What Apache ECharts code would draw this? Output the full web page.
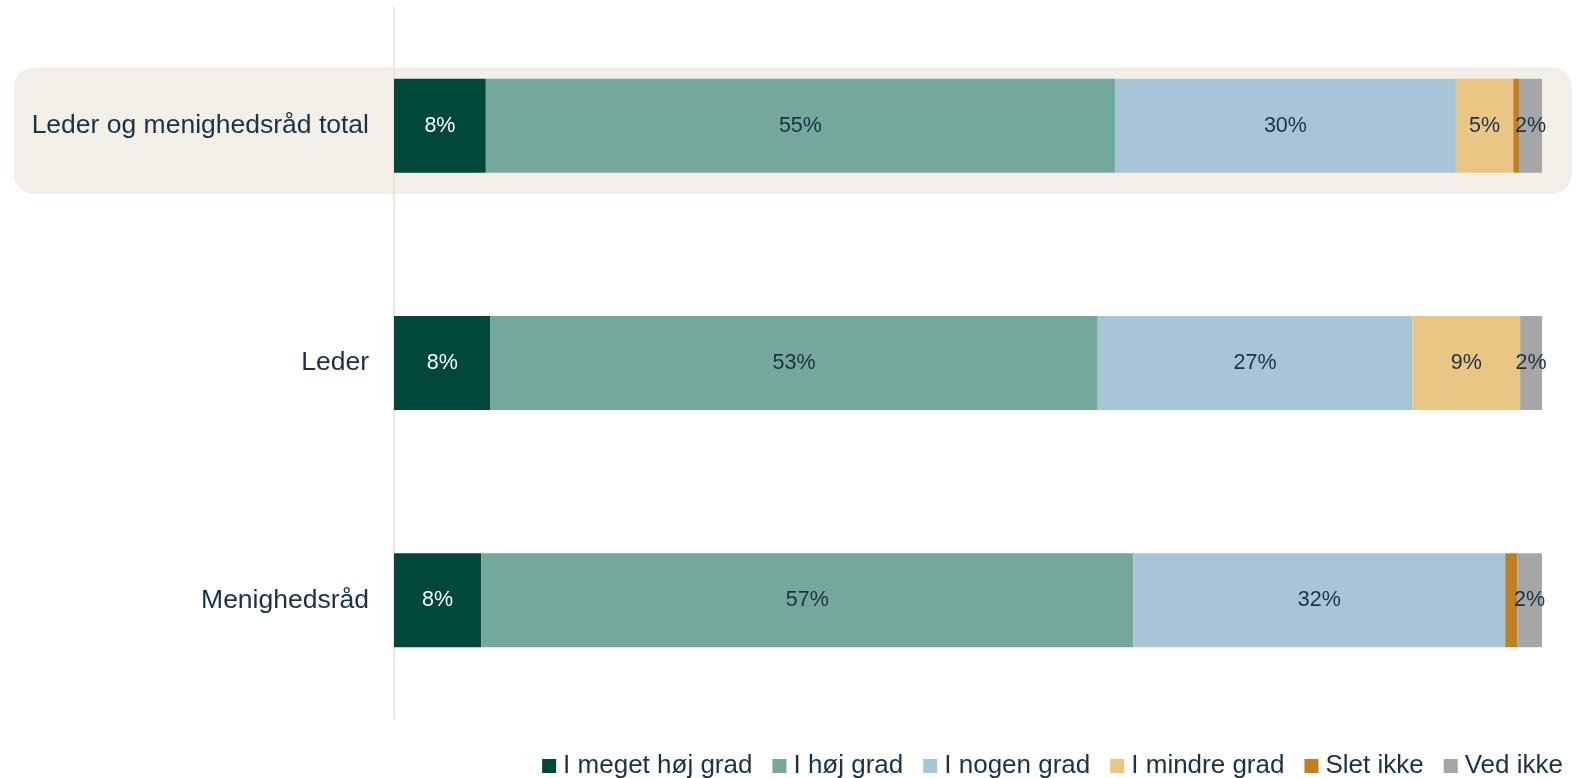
<!DOCTYPE html>
<html>
<head>
<meta charset="utf-8">
<script src="https://cdn.jsdelivr.net/npm/echarts@6/dist/echarts.min.js"></script>
<style>
  html, body { margin: 0; padding: 0; background: #ffffff; }
  #chart { width: 1580px; height: 778px; }
</style>
</head>
<body>
<div id="chart"></div>
<script>
// Kategorier og andele (%)
const categories = ["Leder og menighedsråd total", "Leder", "Menighedsråd"];
const seriesNames = ["I meget høj grad", "I høj grad", "I nogen grad", "I mindre grad", "Slet ikke", "Ved ikke"];
const meget_hoj = [8.0, 8.4, 7.6];
const hoj = [54.8, 52.9, 56.8];
const nogen = [29.7, 27.4, 32.4];
const mindre = [5.0, 9.4, 0];
const slet_ikke = [0.5, 0, 1.05];
const ved_ikke = [2.0, 1.9, 2.15];

const values = [meget_hoj, hoj, nogen, mindre, slet_ikke, ved_ikke];
const colors = ["#01473a", "#74a89b", "#a8c5d6", "#e9c683", "#c17f22", "#a6a6a6"];
const labelColors = ["#ffffff", "#1b3147", "#1b3147", "#1b3147", "#1b3147", "#1b3147"];

const chart = echarts.init(document.getElementById("chart"));

const series = seriesNames.map((name, i) => ({
  name: name,
  type: "bar",
  stack: "total",
  barWidth: 94,
  data: values[i],
  itemStyle: { color: colors[i] },
  label: {
    show: true,
    position: "inside",
    fontFamily: "Liberation Sans, Arial, sans-serif",
    fontSize: 21.5,
    color: labelColors[i],
    formatter: (p) => (p.value >= 1.5 ? Math.round(p.value) + "%" : ""),
  },
  emphasis: { disabled: true },
}));

chart.setOption({
  backgroundColor: "#ffffff",
  animation: false,
  textStyle: { fontFamily: "Liberation Sans, Arial, sans-serif" },
  graphic: [
    {
      type: "rect",
      z: -10,
      shape: { x: 14, y: 67.5, width: 1558, height: 126.5, r: 20 },
      style: { fill: "#f2efe8" },
      silent: true,
    },
  ],
  legend: {
    data: seriesNames,
    right: 12,
    top: 748,
    icon: "rect",
    itemWidth: 14,
    itemHeight: 14,
    itemGap: 20,
    selectedMode: false,
    textStyle: {
      color: "#1b3147",
      fontSize: 26,
      fontFamily: "Liberation Sans, Arial, sans-serif",
      padding: [0, 0, 0, 2],
    },
  },
  grid: { left: 394, right: 38, top: 7, bottom: 59, containLabel: false },
  xAxis: {
    type: "value",
    min: 0,
    max: 100,
    show: false,
  },
  yAxis: {
    type: "category",
    inverse: true,
    data: categories,
    axisLine: { show: true, lineStyle: { color: "#e6e1d6", width: 1.5 } },
    axisTick: { show: false },
    axisLabel: {
      color: "#1b3147",
      fontSize: 26.5,
      margin: 25,
      fontFamily: "Liberation Sans, Arial, sans-serif",
    },
    splitLine: { show: false },
  },
  series: series,
});
</script>
</body>
</html>
